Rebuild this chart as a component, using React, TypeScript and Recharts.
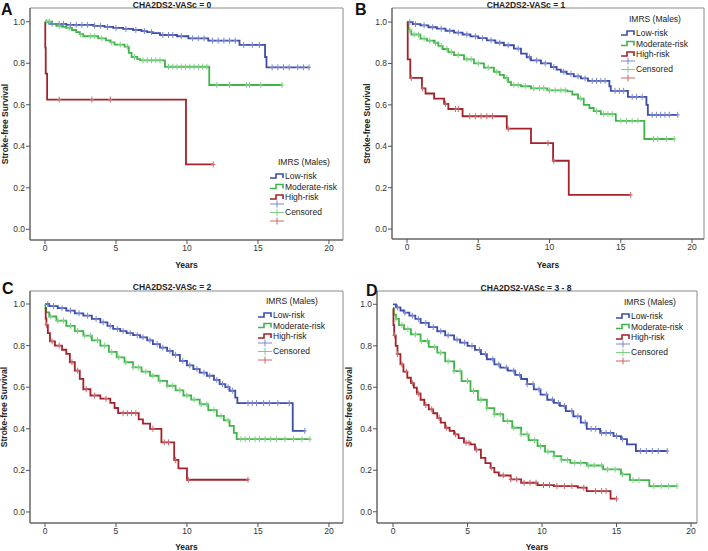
import React from 'react'
import { LineChart, Line, XAxis, YAxis, ReferenceArea, Legend } from 'recharts'

type Step = [number, number]

// ---- A: CHA2DS2-VASc = 0
const aLowSteps: Step[] = [[0, 1], [0.3, 0.99], [1.5, 0.985], [3.4, 0.98], [4.2, 0.975], [4.8, 0.97], [5.5, 0.965], [6.2, 0.96], [6.8, 0.955], [7.2, 0.95], [7.6, 0.945], [8.1, 0.936], [9.3, 0.93], [10.1, 0.92], [11.5, 0.909], [13.7, 0.888], [15.5, 0.83], [15.6, 0.78], [18.6, 0.78]]
const aLowCens = [0.5, 1, 1.3, 1.8, 2.2, 2.6, 3, 3.5, 3.9, 4.4, 5, 5.7, 6.4, 7, 7.5, 8.3, 8.7, 9, 9.6, 10.4, 10.8, 11.2, 11.8, 12.2, 12.6, 13, 13.4, 14, 14.6, 15.1, 16, 16.4, 16.8, 17.2, 17.8, 18.2, 18.6]
const aModSteps: Step[] = [[0, 1], [0.5, 0.99], [0.8, 0.98], [1.2, 0.975], [1.5, 0.97], [1.9, 0.96], [2.2, 0.95], [2.45, 0.94], [2.7, 0.93], [3.75, 0.92], [4.3, 0.91], [4.6, 0.9], [4.9, 0.89], [5.6, 0.88], [5.9, 0.85], [6.1, 0.83], [6.5, 0.82], [6.7, 0.814], [8.45, 0.783], [11.57, 0.695], [16.7, 0.695]]
const aModCens = [0.1, 0.3, 1, 1.7, 2.5, 3.2, 3.5, 4, 4.7, 5.3, 5.8, 6.3, 6.9, 7.2, 7.5, 7.8, 8.1, 8.7, 9, 9.3, 9.6, 9.9, 10.2, 10.5, 10.8, 11.1, 11.4, 12.1, 13, 14.2, 14.4, 15.2, 16.7]
const aHighSteps: Step[] = [[0, 1], [0.02, 0.875], [0.05, 0.75], [0.15, 0.625], [9.93, 0.3125], [11.85, 0.3125]]
const aHighCens = [1.0, 3.3, 4.6, 11.85]

// ---- B: CHA2DS2-VASc = 1
const bLowSteps: Step[] = [[0, 1], [0.4, 0.99], [0.94, 0.984], [1.5, 0.975], [2.1, 0.968], [2.7, 0.958], [3.3, 0.949], [3.9, 0.94], [4.45, 0.931], [5.0, 0.922], [5.6, 0.912], [6.2, 0.9], [6.8, 0.888], [7.5, 0.872], [8.0, 0.848], [8.4, 0.83], [8.7, 0.815], [9.4, 0.8], [10.1, 0.783], [10.5, 0.77], [10.8, 0.76], [11.2, 0.75], [11.7, 0.738], [12.2, 0.728], [12.7, 0.716], [14.2, 0.69], [14.3, 0.668], [15.5, 0.639], [16.8, 0.6], [16.9, 0.552], [19.0, 0.552]]
const bLowCens = [0.2, 0.6, 1.2, 1.8, 2.4, 3, 3.6, 4.2, 4.8, 5.3, 5.9, 6.5, 7.1, 7.8, 8.6, 9.1, 9.7, 10.3, 11, 11.5, 12, 12.5, 13, 13.3, 13.6, 13.9, 14.6, 14.9, 15.2, 15.8, 16.1, 16.5, 17.2, 17.5, 17.8, 18.1, 18.4, 19.0]
const bModSteps: Step[] = [[0, 1], [0.05, 0.98], [0.1, 0.96], [0.3, 0.94], [0.94, 0.92], [1.4, 0.91], [1.9, 0.9], [2.2, 0.885], [2.5, 0.87], [2.9, 0.855], [3.3, 0.84], [4.0, 0.82], [4.7, 0.8], [5.4, 0.78], [6.1, 0.76], [6.5, 0.745], [6.8, 0.73], [7.1, 0.71], [7.3, 0.695], [8.0, 0.69], [8.7, 0.68], [9.85, 0.67], [11.25, 0.665], [11.6, 0.65], [12.0, 0.63], [12.4, 0.6], [12.8, 0.585], [13.1, 0.57], [13.6, 0.555], [14.65, 0.523], [16.65, 0.435], [18.75, 0.435]]
const bModCens = [0.2, 0.5, 0.8, 1.2, 1.6, 2, 2.4, 2.8, 3.1, 3.6, 4.2, 4.5, 5, 5.7, 6.3, 7, 7.5, 7.8, 8.3, 8.9, 9.3, 9.6, 10, 10.4, 10.8, 11.1, 12.2, 13.3, 13.8, 14.1, 14.4, 15, 15.4, 15.8, 16.2, 17.3, 17.6, 18.2, 18.75]
const bHighSteps: Step[] = [[0, 1], [0.05, 0.82], [0.23, 0.73], [1.05, 0.68], [1.3, 0.655], [1.9, 0.63], [2.6, 0.605], [2.9, 0.58], [3.9, 0.545], [7.0, 0.485], [8.7, 0.415], [10.25, 0.33], [11.35, 0.165], [15.7, 0.165]]
const bHighCens = [0.3, 1.1, 2.7, 3.4, 3.6, 4.4, 4.8, 5.2, 5.6, 6.0, 7.1, 9.9, 10.3, 15.7]

// ---- C: CHA2DS2-VASc = 2
const cLowSteps: Step[] = [[0, 1], [0.3, 0.99], [0.9, 0.98], [1.5, 0.968], [2.1, 0.955], [2.7, 0.944], [3.3, 0.928], [3.9, 0.912], [4.4, 0.895], [4.8, 0.88], [5.3, 0.87], [5.75, 0.86], [6.2, 0.85], [6.7, 0.84], [7.2, 0.825], [7.6, 0.807], [8.1, 0.79], [8.6, 0.775], [9.0, 0.755], [9.5, 0.727], [10.0, 0.705], [10.45, 0.687], [10.9, 0.67], [11.4, 0.655], [11.9, 0.635], [12.3, 0.615], [12.7, 0.6], [13.0, 0.583], [13.4, 0.55], [13.55, 0.523], [17.45, 0.39], [18.3, 0.39]]
const cLowCens = [0.2, 0.6, 1.2, 1.8, 2.4, 3, 3.6, 4.1, 4.6, 5.1, 5.5, 6, 6.5, 6.9, 7.4, 7.9, 8.3, 8.8, 9.2, 9.7, 10.2, 10.7, 11.2, 11.6, 12.1, 12.5, 12.9, 13.2, 14.3, 14.6, 14.9, 15.4, 15.8, 16.4, 17.2, 18.3]
const cModSteps: Step[] = [[0, 1], [0.03, 0.98], [0.08, 0.96], [0.3, 0.94], [0.8, 0.92], [1.5, 0.895], [2.1, 0.87], [2.7, 0.848], [3.3, 0.825], [3.9, 0.8], [4.5, 0.77], [5.05, 0.743], [5.6, 0.72], [6.2, 0.695], [6.8, 0.675], [7.4, 0.655], [8.0, 0.63], [8.6, 0.607], [9.2, 0.585], [9.75, 0.56], [10.3, 0.54], [10.9, 0.518], [11.5, 0.49], [12.1, 0.462], [12.6, 0.44], [13.0, 0.414], [13.3, 0.38], [13.5, 0.35], [18.66, 0.35]]
const cModCens = [0.4, 0.9, 1.3, 1.8, 2.3, 2.8, 3.2, 3.7, 4.2, 4.7, 5.2, 5.7, 6.2, 6.6, 7.1, 7.6, 8.1, 8.6, 9, 9.5, 10, 10.5, 11, 11.4, 11.9, 12.4, 12.9, 13.8, 14.1, 14.4, 14.8, 15.1, 15.5, 15.9, 16.3, 16.9, 17.5, 18.1, 18.66]
const cHighSteps: Step[] = [[0, 0.98], [0.05, 0.93], [0.1, 0.9], [0.2, 0.86], [0.35, 0.82], [0.7, 0.8], [1.2, 0.78], [1.5, 0.76], [1.75, 0.72], [2.1, 0.68], [2.45, 0.64], [2.7, 0.59], [3.2, 0.56], [3.9, 0.545], [4.6, 0.525], [4.9, 0.5], [5.15, 0.475], [6.6, 0.445], [6.9, 0.425], [7.4, 0.4], [8.2, 0.335], [9.1, 0.25], [9.4, 0.21], [10.0, 0.155], [14.3, 0.155]]
const cHighCens = [0.1, 0.5, 1, 1.9, 2.3, 2.9, 3.5, 4.3, 5.5, 5.8, 6.1, 6.4, 7.6, 8.4, 8.7, 9.2, 10.1, 14.3]

// ---- D: CHA2DS2-VASc = 3 - 8
const dLowSteps: Step[] = [[0, 1], [0.2, 0.985], [0.5, 0.97], [0.74, 0.96], [1.1, 0.945], [1.5, 0.93], [1.85, 0.91], [2.4, 0.89], [2.97, 0.87], [3.5, 0.85], [4.1, 0.83], [4.5, 0.815], [5.0, 0.8], [5.5, 0.78], [5.9, 0.76], [6.3, 0.735], [6.8, 0.71], [7.2, 0.695], [7.7, 0.68], [8.2, 0.66], [8.6, 0.64], [9.0, 0.615], [9.45, 0.59], [9.9, 0.565], [10.35, 0.54], [10.8, 0.525], [11.2, 0.51], [11.6, 0.485], [12.1, 0.46], [12.6, 0.43], [13.0, 0.4], [13.9, 0.38], [14.8, 0.365], [15.3, 0.35], [15.7, 0.325], [16.3, 0.293], [18.4, 0.293]]
const dLowCens = [0.3, 0.8, 1.3, 1.7, 2.2, 2.7, 3.2, 3.7, 4.3, 4.8, 5.3, 5.8, 6.2, 6.7, 7.1, 7.6, 8.1, 8.5, 9, 9.4, 9.8, 10.3, 10.7, 11.1, 11.5, 12, 12.4, 12.9, 13.3, 13.6, 14, 14.3, 14.6, 15, 15.4, 16.6, 17, 17.4, 17.8, 18.4]
const dModSteps: Step[] = [[0, 0.98], [0.05, 0.95], [0.2, 0.93], [0.4, 0.9], [0.74, 0.88], [1.2, 0.855], [1.85, 0.823], [2.4, 0.795], [2.97, 0.767], [3.5, 0.725], [4.1, 0.678], [4.6, 0.63], [5.2, 0.582], [5.7, 0.54], [6.3, 0.5], [6.8, 0.47], [7.4, 0.437], [8.0, 0.405], [8.6, 0.373], [9.1, 0.345], [9.7, 0.317], [10.2, 0.29], [10.8, 0.268], [11.3, 0.25], [11.9, 0.236], [13.0, 0.223], [14.1, 0.204], [15.3, 0.18], [15.9, 0.153], [17.2, 0.124], [19.05, 0.124]]
const dModCens = [0.2, 0.6, 1, 1.5, 1.9, 2.3, 2.8, 3.2, 3.7, 4.1, 4.5, 5, 5.4, 5.9, 6.3, 6.8, 7.2, 7.7, 8.1, 8.6, 9, 9.5, 9.9, 10.4, 10.8, 11.3, 11.7, 12.2, 12.6, 13.1, 13.5, 14, 14.4, 14.9, 15.4, 16.1, 16.5, 17.5, 18, 18.5, 19.05]
const dHighSteps: Step[] = [[0, 0.98], [0.03, 0.9], [0.08, 0.85], [0.18, 0.8], [0.3, 0.76], [0.5, 0.71], [0.7, 0.675], [0.96, 0.646], [1.2, 0.62], [1.4, 0.598], [1.6, 0.57], [1.85, 0.54], [2.1, 0.515], [2.4, 0.494], [2.7, 0.475], [2.97, 0.453], [3.2, 0.43], [3.5, 0.405], [3.8, 0.39], [4.1, 0.373], [4.4, 0.355], [4.76, 0.333], [5.2, 0.325], [5.5, 0.3], [5.9, 0.26], [6.2, 0.235], [6.55, 0.212], [6.8, 0.19], [7.1, 0.175], [7.9, 0.156], [8.6, 0.14], [9.7, 0.129], [10.8, 0.124], [12.4, 0.116], [13.0, 0.1], [14.6, 0.063], [15.0, 0.063]]
const dHighCens = [0.1, 0.3, 0.6, 0.9, 1.3, 1.7, 2.2, 2.6, 3.1, 3.6, 4.2, 4.9, 5.1, 5.6, 6.6, 7.4, 7.9, 8.3, 8.8, 9.2, 9.6, 10.1, 10.5, 11, 11.5, 12, 12.8, 13.6, 14, 14.3, 15]

const panelLetters = ['A', 'B', 'C', 'D']
const panelTitles = ['CHA2DS2-VASc = 0', 'CHA2DS2-VASc = 1', 'CHA2DS2-VASc = 2', 'CHA2DS2-VASc = 3 - 8']
const groupNames = ['Low-risk', 'Moderate-risk', 'High-risk']
const legendTitle = 'IMRS (Males)'
const xTicks = [0, 5, 10, 15, 20]
const yTicks = [0, 0.2, 0.4, 0.6, 0.8, 1.0]

const COLORS = ['#3b4ca9', '#3fb549', '#a3232a']
const CENS_COLORS = ['#7b87cf', '#7fd086', '#c9686c']
const FONT = '"Liberation Sans", Arial, sans-serif'

// step value of the KM curve at time t
function levelAt(steps: Step[], t: number) {
  let s = steps[0][1]
  for (const [ti, si] of steps) if (ti <= t) s = si
  return s
}

const toRows = (steps: Step[]) => steps.map(([t, s]) => ({ t, s }))
const censRows = (steps: Step[], cens: number[]) => cens.map((t) => ({ t, s: levelAt(steps, t) }))

function censorDot(color: string) {
  return (props: any) => {
    const { cx, cy, index } = props
    if (cx == null || cy == null) return <g key={index} />
    return (
      <path
        key={index}
        d={`M${cx},${cy - 3}V${cy + 3}M${cx - 2},${cy}H${cx + 2}`}
        stroke={color}
        strokeWidth={1}
        fill="none"
      />
    )
  }
}

function KMLegend() {
  return (
    <svg width={95} height={72} style={{ overflow: 'visible', fontFamily: FONT }}>
      <text x={10} y={10} fontSize={8.5} fill="#222">{legendTitle}</text>
      {groupNames.map((name, i) => {
        const y = 21 + i * 10.5
        return (
          <g key={name}>
            <path d={`M2,${y + 2}H8V${y - 2}H15V${y + 2}`} stroke={COLORS[i]} strokeWidth={1.6} fill="none" />
            <text x={17} y={y + 3} fontSize={8.5} fill="#222">{name}</text>
          </g>
        )
      })}
      {CENS_COLORS.map((c, i) => {
        const y = 49 + i * 8.5
        return <path key={c} d={`M2,${y}H16M9,${y - 3.5}V${y + 3.5}`} stroke={c} strokeWidth={1} fill="none" />
      })}
      <text x={17} y={60} fontSize={8.5} fill="#222">Censored</text>
    </svg>
  )
}

interface PanelLayout {
  left: number
  top: number
  w: number
  h: number
  mTop: number
  mRight: number
  yW: number
  xH: number
  xDom: [number, number]
  yDom: [number, number]
  yLabOff: number
  xLabOff: number
  legLeft: number
  legTop: number
}

const layouts: PanelLayout[] = [
  { left: 0, top: 0, w: 354, h: 276, mTop: 8, mRight: 11, yW: 30, xH: 36, xDom: [-1.056, 20.99], yDom: [-0.0515, 1.066], yLabOff: 5, xLabOff: 8, legLeft: 268, legTop: 155 },
  { left: 354, top: 0, w: 354, h: 276, mTop: 8, mRight: 4, yW: 38, xH: 37, xDom: [-1.053, 20.84], yDom: [-0.048, 1.068], yLabOff: 13, xLabOff: 8, legLeft: 265, legTop: 12 },
  { left: 0, top: 276, w: 354, h: 275, mTop: 15, mRight: 11, yW: 30, xH: 28, xDom: [-1.056, 20.99], yDom: [-0.053, 1.0625], yLabOff: 4, xLabOff: 1, legLeft: 256, legTop: 18 },
  { left: 340, top: 276, w: 368, h: 275, mTop: 15, mRight: 11, yW: 37, xH: 28, xDom: [-1.074, 20.4], yDom: [-0.054, 1.064], yLabOff: 9, xLabOff: 1, legLeft: 274, legTop: 19 },
]

const panelSteps: Step[][][] = [
  [aLowSteps, aModSteps, aHighSteps],
  [bLowSteps, bModSteps, bHighSteps],
  [cLowSteps, cModSteps, cHighSteps],
  [dLowSteps, dModSteps, dHighSteps],
]
const panelCens: number[][][] = [
  [aLowCens, aModCens, aHighCens],
  [bLowCens, bModCens, bHighCens],
  [cLowCens, cModCens, cHighCens],
  [dLowCens, dModCens, dHighCens],
]

function Panel({ idx }: { idx: number }) {
  const L = layouts[idx]
  const steps = panelSteps[idx]
  const cens = panelCens[idx]
  const tick = { fontSize: 8.5, fill: '#333', fontFamily: FONT }
  return (
    <div style={{ position: 'absolute', left: L.left, top: L.top }}>
      <LineChart width={L.w} height={L.h} margin={{ top: L.mTop, right: L.mRight, left: 0, bottom: 0 }}>
        <XAxis
          type="number"
          dataKey="t"
          domain={L.xDom}
          ticks={xTicks}
          allowDataOverflow
          height={L.xH}
          tickSize={4}
          tickMargin={1}
          tick={tick}
          stroke="#555"
          label={{ value: 'Years', position: 'insideBottom', offset: L.xLabOff, style: { fontSize: 8.5, fontWeight: 'bold', fill: '#222', fontFamily: FONT } }}
        />
        <YAxis
          type="number"
          dataKey="s"
          domain={L.yDom}
          ticks={yTicks}
          allowDataOverflow
          width={L.yW}
          tickSize={4}
          tickMargin={1}
          tick={tick}
          stroke="#555"
          tickFormatter={(v: number) => v.toFixed(1)}
          label={{ value: 'Stroke-free Survival', angle: -90, position: 'insideLeft', offset: L.yLabOff, style: { textAnchor: 'middle', fontSize: 8.5, fontWeight: 'bold', fill: '#222', fontFamily: FONT } }}
        />
        <ReferenceArea x1={L.xDom[0]} x2={L.xDom[1]} y1={L.yDom[0]} y2={L.yDom[1]} fill="none" stroke="#8a8a8a" strokeWidth={1} />
        {steps.map((st, i) => (
          <Line
            key={'l' + i}
            data={toRows(st)}
            dataKey="s"
            type="stepAfter"
            stroke={COLORS[i]}
            strokeWidth={1.8}
            dot={false}
            activeDot={false}
            isAnimationActive={false}
            name={groupNames[i]}
          />
        ))}
        {steps.map((st, i) => (
          <Line
            key={'c' + i}
            data={censRows(st, cens[i])}
            dataKey="s"
            stroke="none"
            dot={censorDot(CENS_COLORS[i])}
            activeDot={false}
            isAnimationActive={false}
            legendType="none"
          />
        ))}
        <Legend
          layout="vertical"
          align="center"
          verticalAlign="middle"
          content={() => <KMLegend />}
          wrapperStyle={{ left: L.legLeft, top: L.legTop, width: 95, height: 72 }}
        />
      </LineChart>
    </div>
  )
}

const letterPos = [[1, 15], [355, 15], [2, 294], [366, 296]]
const titlePos = [[172, 8], [526, 8], [172, 289.5], [526, 290.5]]

export default function App() {
  return (
    <div style={{ position: 'absolute', left: 0, top: 0, width: 708, height: 551, background: '#fff', fontFamily: FONT }}>
      {layouts.map((_, i) => (
        <Panel key={i} idx={i} />
      ))}
      <svg width={708} height={551} style={{ position: 'absolute', left: 0, top: 0, pointerEvents: 'none' }}>
        {panelLetters.map((l, i) => (
          <text key={l} x={letterPos[i][0]} y={letterPos[i][1]} fontSize={16} fontWeight="bold" fill="#111" fontFamily={FONT}>
            {l}
          </text>
        ))}
        {panelTitles.map((t, i) => (
          <text key={t} x={titlePos[i][0]} y={titlePos[i][1]} fontSize={8.5} fontWeight="bold" fill="#222" textAnchor="middle" fontFamily={FONT}>
            {t}
          </text>
        ))}
      </svg>
    </div>
  )
}
